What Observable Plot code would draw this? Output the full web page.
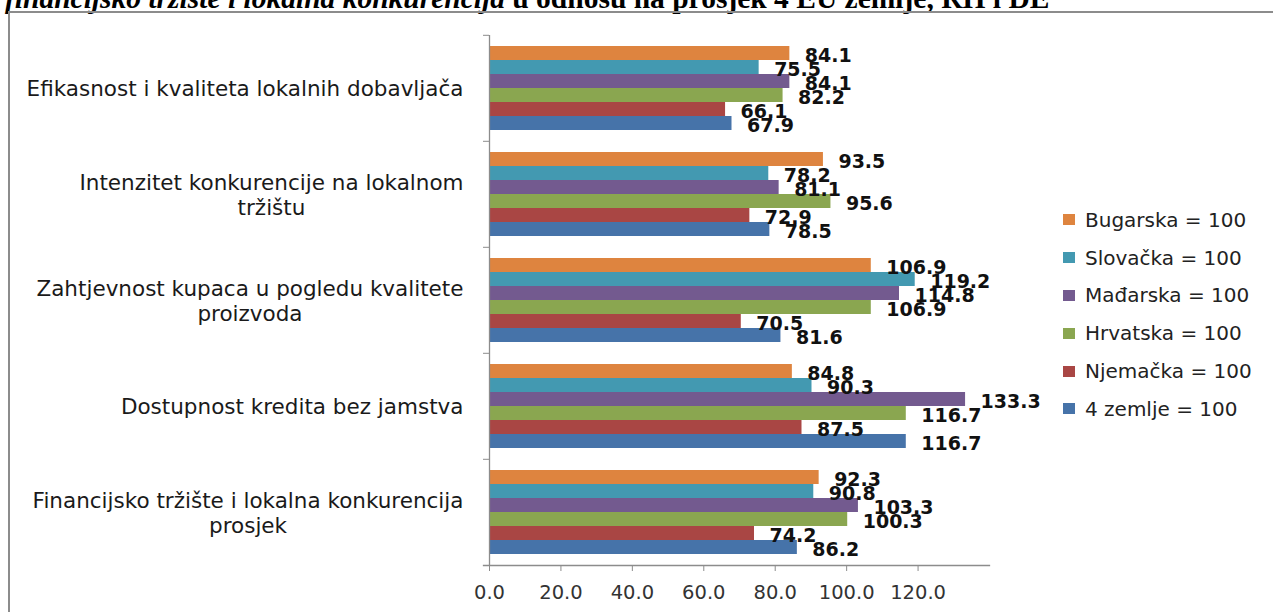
<!DOCTYPE html>
<html><head><meta charset="utf-8">
<script src="https://cdn.jsdelivr.net/npm/d3@7"></script>
<script src="https://cdn.jsdelivr.net/npm/@observablehq/plot@0.6"></script>
<style>
html,body{margin:0;padding:0;background:#fff;}
#wrap{position:relative;width:1273px;height:612px;overflow:hidden;}
#title{position:absolute;left:5px;top:-16px;font-family:"Liberation Serif",serif;font-weight:bold;font-size:29.5px;line-height:1;white-space:nowrap;color:#000;}
#border{position:absolute;left:8px;top:11px;right:0;bottom:0;border-left:2px solid #8c8c8c;border-top:2px solid #8c8c8c;}
#chart{position:absolute;left:0;top:0;}
#legend{position:absolute;left:1063px;top:201px;font-family:"DejaVu Sans",sans-serif;font-size:20px;color:#222;}
.lg-row{height:37.8px;display:flex;align-items:center;white-space:nowrap;}
.lg-sw{width:12px;height:11px;margin-right:10px;}
</style></head>
<body>
<div id="wrap">
  <div id="title"><i>financijsko tržište i lokalna konkurencija</i> u odnosu na prosjek 4 EU zemlje, RH i DE</div>
  <div id="border"></div>
  <div id="chart"></div>
  <div id="legend"></div>
</div>
<script>
const categories = [
  "Efikasnost i kvaliteta lokalnih dobavljača",
  "Intenzitet konkurencije na lokalnom tržištu",
  "Zahtjevnost kupaca u pogledu kvalitete proizvoda",
  "Dostupnost kredita bez jamstva",
  "Financijsko tržište i lokalna konkurencija prosjek"
];
const categoryLines = [
  "Efikasnost i kvaliteta lokalnih dobavljača",
  "Intenzitet konkurencije na lokalnom\ntržištu",
  "Zahtjevnost kupaca u pogledu kvalitete\nproizvoda",
  "Dostupnost kredita bez jamstva",
  "Financijsko tržište i lokalna konkurencija\nprosjek"
];
const series = ["Bugarska = 100", "Slovačka = 100", "Mađarska = 100", "Hrvatska = 100", "Njemačka = 100", "4 zemlje = 100"];
const seriesColors = ["#de843f", "#4399b1", "#735a8f", "#8aa650", "#a94644", "#4673a9"];
const bugarska = [84.1, 93.5, 106.9, 84.8, 92.3];
const slovacka = [75.5, 78.2, 119.2, 90.3, 90.8];
const madarska = [84.1, 81.1, 114.8, 133.3, 103.3];
const hrvatska = [82.2, 95.6, 106.9, 116.7, 100.3];
const njemacka = [66.1, 72.9, 70.5, 87.5, 74.2];
const cetiriZemlje = [67.9, 78.5, 81.6, 116.7, 86.2];
const xTicks = [0, 20, 40, 60, 80, 100, 120];
const xMax = 140;

const seriesValues = [bugarska, slovacka, madarska, hrvatska, njemacka, cetiriZemlje];
const rows = categories.flatMap((c, i) => series.map((s, j) => ({category: c, series: s, value: seriesValues[j][i]})));
const labelOf = Object.fromEntries(categories.map((c, i) => [c, categoryLines[i]]));

const W = 1273, H = 612, mt = 34, mb = 46, ml = 489, mr = 284;
const step = (H - mt - mb) / categories.length;
const axisGray = "#8c8c8c";

const chart = Plot.plot({
  width: W, height: H,
  marginLeft: ml, marginRight: mr, marginTop: mt, marginBottom: mb,
  style: {fontFamily: "DejaVu Sans", background: "transparent", overflow: "visible"},
  x: {domain: [0, xMax]},
  y: {domain: series, paddingInner: 0, paddingOuter: 0.71, axis: null},
  fy: {domain: categories, paddingInner: 0, paddingOuter: 0},
  color: {domain: series, range: seriesColors},
  marks: [
    Plot.barX(rows, {x: "value", y: "series", fy: "category", fill: "series"}),
    Plot.text(rows, {x: "value", y: "series", fy: "category", text: d => d.value.toFixed(1),
      textAnchor: "start", dx: 15, dy: 2, fontWeight: "bold", fontSize: 19, fill: "#111"}),
    Plot.ruleX([0], {stroke: axisGray, strokeWidth: 1.3}),
    Plot.axisFy({anchor: "left", tickSize: 0, tickPadding: 26, tickFormat: c => labelOf[c],
      fontSize: 21.5, lineHeight: 1.15, textAnchor: "end", fill: "#1a1a1a", label: null}),
    Plot.axisFy({anchor: "left", tickSize: 6, tickFormat: () => "", dy: -step / 2, stroke: axisGray, label: null}),
    Plot.axisX({ticks: xTicks, tickFormat: d3.format(".1f"), tickSize: 6, tickPadding: 14,
      fontSize: 19.5, stroke: axisGray, fill: "#333", label: null}),
    Plot.frame({anchor: "bottom", fy: () => categories[categories.length - 1], insetLeft: -6, stroke: axisGray, strokeWidth: 1.3})
  ]
});
document.getElementById("chart").appendChild(chart);

// Excel-style wrapped labels: block right-aligned, lines centred within the block
chart.querySelectorAll('g[aria-label="fy-axis tick label"] text').forEach(t => {
  const spans = t.querySelectorAll("tspan");
  let w;
  if (spans.length) w = Math.max(...Array.from(spans, s => s.getComputedTextLength()));
  else w = t.getComputedTextLength();
  if (!w) return;
  t.setAttribute("text-anchor", "middle");
  t.setAttribute("transform", (t.getAttribute("transform") || "") + ` translate(${-w / 2},0)`);
});

const legend = document.getElementById("legend");
series.forEach((s, i) => {
  const row = document.createElement("div");
  row.className = "lg-row";
  const sw = document.createElement("div");
  sw.className = "lg-sw";
  sw.style.background = seriesColors[i];
  const tx = document.createElement("span");
  tx.textContent = s;
  row.appendChild(sw); row.appendChild(tx);
  legend.appendChild(row);
});
</script>
</body></html>
